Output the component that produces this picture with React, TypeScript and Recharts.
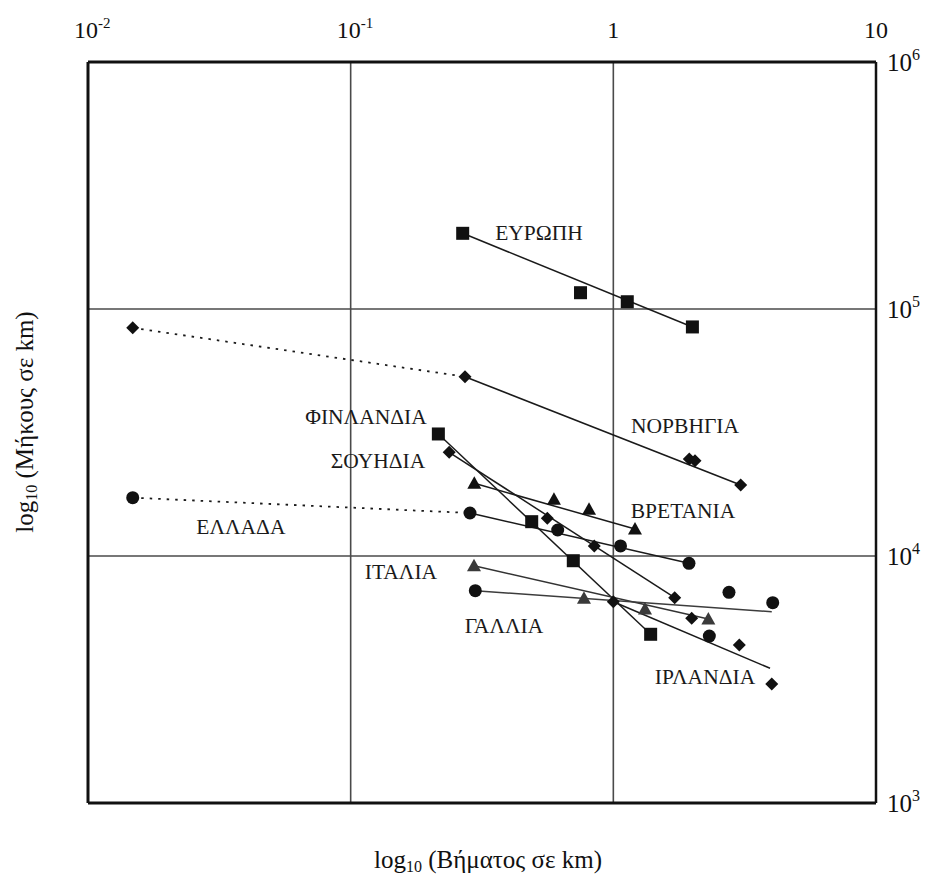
import React from "react";
import { ScatterChart, Scatter, XAxis, YAxis, CartesianGrid } from "recharts";

const FONT = "'Liberation Serif', 'DejaVu Serif', serif";

// Axis ticks
const xTicks = [0.01, 0.1, 1, 10];
const xTickBase = ["10", "10", "1", "10"];
const xTickSup = ["-2", "-1", "", ""];
const yTicks = [1000, 10000, 100000, 1000000];
const yTickBase = ["10", "10", "10", "10"];
const yTickSup = ["3", "4", "5", "6"];

// Data series (step km, length km)
const europe = [
  { x: 0.267, y: 202500 },
  { x: 0.75, y: 116400 },
  { x: 1.13, y: 107000 },
  { x: 2.0, y: 84600 },
];
const norway = [
  { x: 0.0148, y: 83900 },
  { x: 0.2724, y: 53200 },
  { x: 1.946, y: 24700 },
  { x: 2.046, y: 24300 },
  { x: 3.054, y: 19390 },
];
const greece = [
  { x: 0.0148, y: 17220 },
  { x: 0.2846, y: 14930 },
  { x: 0.614, y: 12740 },
  { x: 1.065, y: 10980 },
  { x: 1.941, y: 9340 },
];
const finland = [
  { x: 0.2157, y: 31190 },
  { x: 0.4889, y: 13770 },
  { x: 0.704, y: 9570 },
  { x: 1.387, y: 4820 },
];
const sweden = [
  { x: 0.2372, y: 26290 },
  { x: 0.5605, y: 14210 },
  { x: 0.8462, y: 10980 },
  { x: 1.712, y: 6780 },
];
const britain = [
  { x: 0.2956, y: 19700 },
  { x: 0.5942, y: 16970 },
  { x: 0.8081, y: 15450 },
  { x: 1.209, y: 12860 },
];
const italy = [
  { x: 0.2948, y: 9130 },
  { x: 0.773, y: 6740 },
  { x: 1.32, y: 6100 },
  { x: 2.3, y: 5560 },
];
const france = [
  { x: 0.2982, y: 7236 },
  { x: 2.756, y: 7130 },
  { x: 4.044, y: 6470 },
];
const ireland = [
  { x: 1.0, y: 6530 },
  { x: 1.988, y: 5595 },
  { x: 3.017, y: 4363 },
  { x: 4.01, y: 3032 },
];
const irelandExtra = [{ x: 2.32, y: 4740 }];

// Fitted lines (end points)
const europeFit = [europe[0], europe[3]];
const norwayDotted = [norway[0], norway[1]];
const norwayFit = [norway[1], norway[4]];
const greeceDotted = [greece[0], greece[1]];
const greeceFit = [greece[1], greece[4]];
const finlandFit = [finland[0], finland[3]];
const swedenFit = [sweden[0], sweden[3]];
const britainFit = [britain[0], britain[3]];
const italyFit = [italy[0], italy[3]];
const franceFit = [{ x: 0.2982, y: 7236 }, { x: 4.01, y: 5950 }];
const irelandFit = [{ x: 1.0, y: 6530 }, { x: 3.95, y: 3510 }];

// Country labels
const labels = [
  { x: 0.521, y: 203100, text: "ΕΥΡΩΠΗ" },
  { x: 1.875, y: 33600, text: "ΝΟΡΒΗΓΙΑ" },
  { x: 0.1144, y: 36540, text: "ΦΙΝΛΑΝΔΙΑ" },
  { x: 0.127, y: 24250, text: "ΣΟΥΗΔΙΑ" },
  { x: 0.0382, y: 13100, text: "ΕΛΛΑΔΑ" },
  { x: 1.842, y: 15210, text: "ΒΡΕΤΑΝΙΑ" },
  { x: 0.1554, y: 8613, text: "ΙΤΑΛΙΑ" },
  { x: 0.3835, y: 5208, text: "ΓΑΛΛΙΑ" },
  { x: 2.234, y: 3237, text: "ΙΡΛΑΝΔΙΑ" },
];

const W = 934;
const H = 878;
const PLOT_RIGHT = 876;
const PLOT_TOP = 62;

const marker = (kind: string, color: string) => (p: any) => {
  const { cx, cy } = p;
  if (cx == null || cy == null) return <g />;
  if (kind === "square")
    return <rect x={cx - 6.5} y={cy - 6.5} width={13} height={13} fill={color} />;
  if (kind === "diamond")
    return (
      <polygon
        points={`${cx},${cy - 6.5} ${cx + 6.5},${cy} ${cx},${cy + 6.5} ${cx - 6.5},${cy}`}
        fill={color}
      />
    );
  if (kind === "circle") return <circle cx={cx} cy={cy} r={6.5} fill={color} />;
  return (
    <polygon
      points={`${cx},${cy - 7} ${cx + 7},${cy + 5.5} ${cx - 7},${cy + 5.5}`}
      fill={color}
    />
  );
};

const noShape = () => <g />;

const labelShape = (p: any) => {
  const { cx, cy, payload } = p;
  if (cx == null) return <g />;
  return (
    <text
      x={cx}
      y={cy}
      textAnchor="middle"
      dominantBaseline="central"
      fontFamily={FONT}
      fontSize={21.5}
      fill="#1a1a1a"
    >
      {payload.text}
    </text>
  );
};

const TopTick = (props: any) => {
  const { x, payload } = props;
  const i = xTicks.indexOf(payload.value);
  const base = xTickBase[i];
  const sup = xTickSup[i];
  return (
    <text
      x={sup ? x - 14 : x}
      y={PLOT_TOP - 24}
      textAnchor={sup ? "start" : "middle"}
      fontFamily={FONT}
      fontSize={24}
      fill="#111"
    >
      <tspan>{base}</tspan>
      {sup ? (
        <tspan dy={-10} fontSize={15}>
          {sup}
        </tspan>
      ) : null}
    </text>
  );
};

const RightTick = (props: any) => {
  const { y, payload } = props;
  const i = yTicks.indexOf(payload.value);
  return (
    <text x={PLOT_RIGHT + 11} y={y + 9} fontFamily={FONT} fontSize={25} fill="#111">
      <tspan>{yTickBase[i]}</tspan>
      <tspan dy={-11} fontSize={16}>
        {yTickSup[i]}
      </tspan>
    </text>
  );
};

const LINE = "#1a1a1a";
const LW = 1.5;

export default function App() {
  return (
    <div style={{ position: "relative", width: W, height: H }}>
      <style>{`body{margin:0;overflow:hidden;}`}</style>
      <ScatterChart
        width={W}
        height={H}
        margin={{ top: PLOT_TOP - 44, right: W - PLOT_RIGHT - 45, left: 82, bottom: 69 }}
      >
        <CartesianGrid stroke="#4a4a4a" strokeWidth={1.6} horizontal vertical />
        <XAxis
          type="number"
          dataKey="x"
          scale="log"
          domain={[0.01, 10]}
          ticks={xTicks}
          orientation="top"
          height={44}
          allowDataOverflow
          axisLine={{ stroke: "#111", strokeWidth: 3 }}
          tickLine={false}
          tick={<TopTick />}
        />
        <XAxis
          xAxisId="b"
          type="number"
          dataKey="x"
          scale="log"
          domain={[0.01, 10]}
          ticks={xTicks}
          orientation="bottom"
          height={6}
          allowDataOverflow
          axisLine={{ stroke: "#111", strokeWidth: 3 }}
          tickLine={{ stroke: "#111", strokeWidth: 2 }}
          tickSize={4}
          tick={false}
        />
        <YAxis
          type="number"
          dataKey="y"
          scale="log"
          domain={[1000, 1000000]}
          ticks={yTicks}
          orientation="right"
          width={45}
          allowDataOverflow
          axisLine={{ stroke: "#111", strokeWidth: 2.5 }}
          tickLine={false}
          tick={<RightTick />}
        />
        <YAxis
          yAxisId="l"
          type="number"
          dataKey="y"
          scale="log"
          domain={[1000, 1000000]}
          ticks={yTicks}
          orientation="left"
          width={6}
          allowDataOverflow
          axisLine={{ stroke: "#111", strokeWidth: 3 }}
          tickLine={{ stroke: "#111", strokeWidth: 2 }}
          tickSize={5}
          tick={false}
        />

        {/* dotted extensions */}
        <Scatter data={norwayDotted} shape={noShape} line={{ stroke: LINE, strokeWidth: 1.8, strokeDasharray: "2.5 6" }} isAnimationActive={false} />
        <Scatter data={greeceDotted} shape={noShape} line={{ stroke: LINE, strokeWidth: 1.8, strokeDasharray: "2.5 6" }} isAnimationActive={false} />

        {/* fitted lines */}
        <Scatter data={europeFit} shape={noShape} line={{ stroke: LINE, strokeWidth: LW }} isAnimationActive={false} />
        <Scatter data={norwayFit} shape={noShape} line={{ stroke: LINE, strokeWidth: LW }} isAnimationActive={false} />
        <Scatter data={greeceFit} shape={noShape} line={{ stroke: LINE, strokeWidth: LW }} isAnimationActive={false} />
        <Scatter data={finlandFit} shape={noShape} line={{ stroke: LINE, strokeWidth: LW }} isAnimationActive={false} />
        <Scatter data={swedenFit} shape={noShape} line={{ stroke: LINE, strokeWidth: LW }} isAnimationActive={false} />
        <Scatter data={britainFit} shape={noShape} line={{ stroke: LINE, strokeWidth: LW }} isAnimationActive={false} />
        <Scatter data={italyFit} shape={noShape} line={{ stroke: "#333", strokeWidth: LW }} isAnimationActive={false} />
        <Scatter data={franceFit} shape={noShape} line={{ stroke: "#3c3c3c", strokeWidth: LW }} isAnimationActive={false} />
        <Scatter data={irelandFit} shape={noShape} line={{ stroke: LINE, strokeWidth: LW }} isAnimationActive={false} />

        {/* markers */}
        <Scatter data={europe} shape={marker("square", "#111")} isAnimationActive={false} />
        <Scatter data={norway} shape={marker("diamond", "#111")} isAnimationActive={false} />
        <Scatter data={greece} shape={marker("circle", "#111")} isAnimationActive={false} />
        <Scatter data={finland} shape={marker("square", "#111")} isAnimationActive={false} />
        <Scatter data={sweden} shape={marker("diamond", "#111")} isAnimationActive={false} />
        <Scatter data={britain} shape={marker("triangle", "#111")} isAnimationActive={false} />
        <Scatter data={italy} shape={marker("triangle", "#3a3a3a")} isAnimationActive={false} />
        <Scatter data={france} shape={marker("circle", "#111")} isAnimationActive={false} />
        <Scatter data={ireland} shape={marker("diamond", "#111")} isAnimationActive={false} />
        <Scatter data={irelandExtra} shape={marker("circle", "#111")} isAnimationActive={false} />

        {/* labels */}
        <Scatter data={labels} shape={labelShape} isAnimationActive={false} />
      </ScatterChart>
      <svg
        width={W}
        height={H}
        style={{ position: "absolute", left: 0, top: 0, pointerEvents: "none" }}
      >
        <text x={488} y={868} textAnchor="middle" fontFamily={FONT} fontSize={25} fill="#111">
          log<tspan fontSize={16} dy={4}>10</tspan>
          <tspan dy={-4}> (Βήματος σε km)</tspan>
        </text>
        <text
          x={0}
          y={0}
          transform="translate(33,422) rotate(-90)"
          textAnchor="middle"
          fontFamily={FONT}
          fontSize={25}
          fill="#111"
        >
          log<tspan fontSize={16} dy={4}>10</tspan>
          <tspan dy={-4}> (Μήκους σε km)</tspan>
        </text>
      </svg>
    </div>
  );
}
